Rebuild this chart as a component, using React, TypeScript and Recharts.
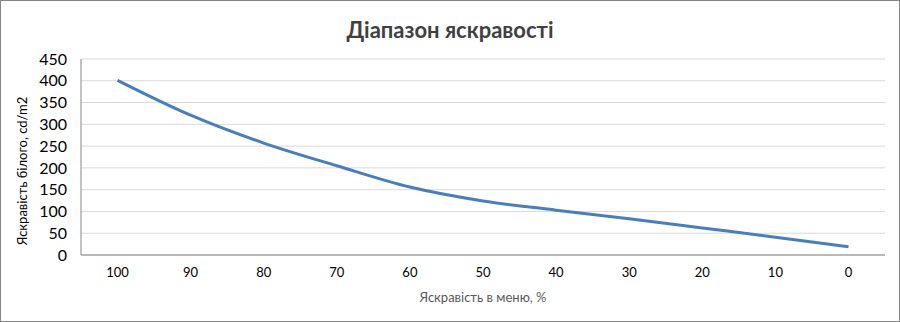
import React from 'react';
import { LineChart, Line, XAxis, YAxis, CartesianGrid, Label } from 'recharts';

const menuLevels = ['100', '90', '80', '70', '60', '50', '40', '30', '20', '10', '0'];
const whiteLuminance = [401, 321, 257, 205, 156, 124, 103, 83, 62, 41, 19];
const yTicks = [0, 50, 100, 150, 200, 250, 300, 350, 400, 450];

const data = menuLevels.map((level, i) => ({ level, value: whiteLuminance[i] }));

const FONT = 'Lato, "Open Sans", sans-serif';

export default function App() {
  return (
    <div
      style={{
        position: 'absolute',
        left: 0,
        top: 0,
        width: 900,
        height: 322,
        boxSizing: 'border-box',
        border: '1px solid #868686',
        background: '#fff',
        fontFamily: FONT,
      }}
    >
      {/* chart title */}
      <div
        style={{
          position: 'absolute',
          left: 0,
          top: 15,
          width: 898,
          textAlign: 'center',
          fontSize: 22,
          fontWeight: 700,
          color: '#404040',
          lineHeight: '28px',
        }}
      >
        Діапазон яскравості
      </div>
      <LineChart width={898} height={320} data={data} margin={{ top: 58, right: 14, left: 0, bottom: 0 }}>
        <CartesianGrid vertical={false} stroke="#d9d9d9" />
        <XAxis
          dataKey="level"
          height={66}
          padding={{ left: 36.5, right: 36.5 }}
          axisLine={{ stroke: '#868686' }}
          tickLine={false}
          tickSize={0}
          tickMargin={13}
          tick={{ fontSize: 13, fill: '#000', fontFamily: FONT }}
          interval={0}
        >
          <Label
            content={() => (
              <text x={482} y={296} textAnchor="middle" dominantBaseline="central" fontSize={13} fill="#595959" fontFamily={FONT}>
                Яскравість в меню, %
              </text>
            )}
          />
        </XAxis>
        <YAxis
          width={80}
          domain={[0, 450]}
          ticks={yTicks}
          interval={0}
          axisLine={{ stroke: '#868686' }}
          tickLine={false}
          tickSize={0}
          tickMargin={14}
          tick={{ fontSize: 16, fill: '#000', fontFamily: FONT }}
        >
          <Label
            content={() => (
              <text
                x={21}
                y={170}
                transform="rotate(-90 21 170)"
                textAnchor="middle"
                dominantBaseline="central"
                fontSize={13}
                fill="#000"
                fontFamily={FONT}
              >
                Яскравість білого, cd/m2
              </text>
            )}
          />
        </YAxis>
        <Line
          type="monotone"
          dataKey="value"
          stroke="#4a7ebb"
          strokeWidth={3}
          dot={false}
          isAnimationActive={false}
        />
      </LineChart>
    </div>
  );
}
